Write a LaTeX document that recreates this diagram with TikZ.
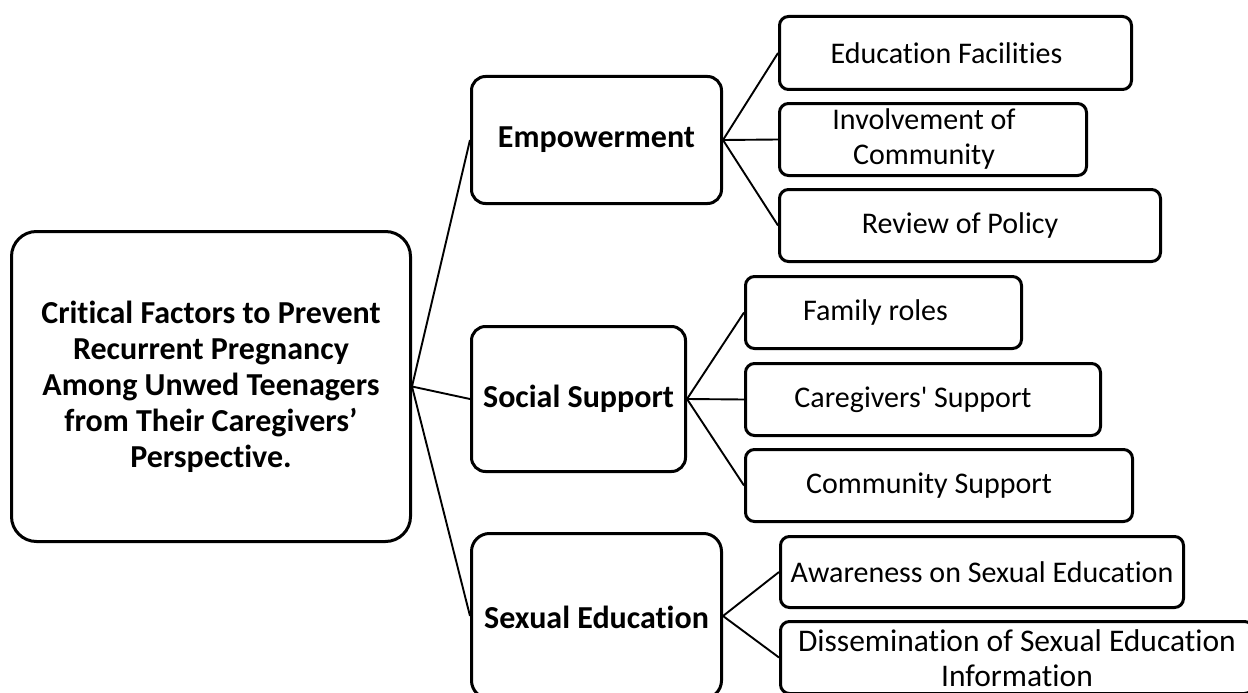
\documentclass[tikz,border=0pt]{standalone}
\usepackage{fontspec}
\newfontfamily\carlitofont{Carlito}[Ligatures=NoCommon]
\begin{document}
\begin{tikzpicture}[x=1pt,y=-1pt,
  box/.style={draw=black, line width=3pt, inner sep=0pt, fill=white},
  lab/.style={align=center, inner sep=0pt, font=\carlitofont\fontsize{30}{35}\selectfont},
  blab/.style={align=center, inner sep=0pt, font=\carlitofont\fontsize{32}{36}\selectfont\bfseries},
  conn/.style={draw=black, line width=1.9pt}
]
\useasboundingbox (0,0) rectangle (1248,693);
% boxes: center, size = outer - line width
\node[box, rounded corners=25pt, minimum width=399pt, minimum height=310pt] (root) at (211,386.5) {};
\node[blab] at (root.center) {Critical Factors to Prevent\\Recurrent Pregnancy\\Among Unwed Teenagers\\from Their Caregivers’\\Perspective.};

\node[box, rounded corners=14pt, minimum width=250pt, minimum height=127pt] (emp) at (596.5,140) {};
\node[blab] at (emp.center) {Empowerment};
\node[box, rounded corners=14pt, minimum width=214pt, minimum height=145pt] (soc) at (578.5,399) {};
\node[blab] at (soc.center) {Social Support};
\node[box, rounded corners=18pt, minimum width=250pt, minimum height=165pt] (sex) at (596.5,616) {};
\node[blab] at ([yshift=-1]sex.center) {Sexual Education};

\node[box, rounded corners=9pt, minimum width=352pt, minimum height=73pt] (edu) at (955.5,53) {};
\node[lab] at ([xshift=-9]edu.center) {Education Facilities};
\node[box, rounded corners=9pt, minimum width=307pt, minimum height=72pt] (inv) at (933,139.5) {};
\node[lab] at ([xshift=-9]inv.center) {Involvement of\\Community};
\node[box, rounded corners=9pt, minimum width=381pt, minimum height=72pt] (rev) at (970,225.5) {};
\node[lab] at ([xshift=-10]rev.center) {Review of Policy};

\node[box, rounded corners=9pt, minimum width=276pt, minimum height=72pt] (fam) at (883.5,312.5) {};
\node[lab] at ([xshift=-8]fam.center) {Family roles};
\node[box, rounded corners=9pt, minimum width=355pt, minimum height=72pt] (care) at (923,399.5) {};
\node[lab] at ([xshift=-10]care.center) {Caregivers' Support};
\node[box, rounded corners=9pt, minimum width=387pt, minimum height=72pt] (comm) at (939,485.5) {};
\node[lab] at ([xshift=-10]comm.center) {Community Support};

\node[box, rounded corners=9pt, minimum width=403pt, minimum height=71pt] (awa) at (982,572) {};
\node[lab] at (awa.center) {Awareness on Sexual Education};
\node[box, rounded corners=9pt, minimum width=473pt, minimum height=72pt] (dis) at (1017,657.5) {};
\node[lab, font=\carlitofont\fontsize{31.5}{35}\selectfont] at ([yshift=-1]dis.center) {Dissemination of Sexual Education\\Information};

% connectors
\foreach \c in {emp,soc,sex} \draw[conn] (root.east) -- (\c.west);
\foreach \c in {edu,inv,rev} \draw[conn] (emp.east) -- (\c.west);
\foreach \c in {fam,care,comm} \draw[conn] (soc.east) -- (\c.west);
\foreach \c in {awa,dis} \draw[conn] (sex.east) -- (\c.west);
\end{tikzpicture}
\end{document}
